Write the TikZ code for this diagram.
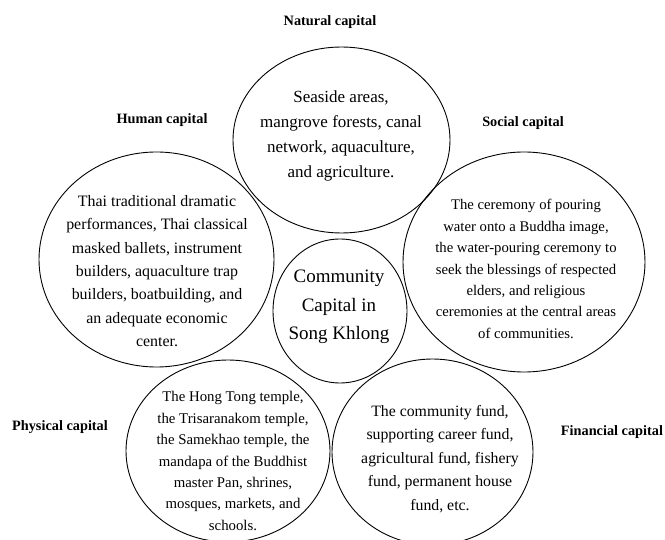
\documentclass[tikz,border=0pt]{standalone}
\usepackage{fontspec}
\setmainfont{Liberation Serif}
\usetikzlibrary{shapes.geometric}
\tikzset{
  capell/.style={draw, line width=0.9pt, ellipse, inner sep=0pt},
  bodytxt/.style={align=center, inner sep=0pt},
  caplabel/.style={inner sep=0pt, font=\fontsize{14.3}{17}\selectfont\bfseries},
}
\begin{document}
\begin{tikzpicture}[x=1pt,y=-1pt]
\useasboundingbox (0,0) rectangle (665,540);
% ellipses
\node[capell, minimum width=217pt, minimum height=186pt] (nat) at (341.5,140) {};
\node[capell, minimum width=235pt, minimum height=215pt] (hum) at (156.5,259.5) {};
\node[capell, minimum width=242pt, minimum height=220pt] (soc) at (524,262) {};
\node[capell, minimum width=204pt, minimum height=182pt] (phy) at (228,451) {};
\node[capell, minimum width=201pt, minimum height=186pt] (fin) at (432.5,452) {};
\node[capell, minimum width=134pt, minimum height=144pt] (cen) at (340,311) {};
% labels
\node[caplabel] (natL) at (330,22) {Natural capital};
\node[caplabel] (humL) at (162,120) {Human capital};
\node[caplabel] (socL) at (523,123) {Social capital};
\node[caplabel] (phyL) at (60,427) {Physical capital};
\node[caplabel] (finL) at (612,432) {Financial capital};
% texts
\node[bodytxt, font=\fontsize{17}{25}\selectfont] (natT) at (341,136)
  {Seaside areas,\\mangrove forests, canal\\network, aquaculture,\\and agriculture.};
\node[bodytxt, font=\fontsize{15.9}{23.4}\selectfont] (humT) at (157,271)
  {Thai traditional dramatic\\performances, Thai classical\\masked ballets, instrument\\builders, aquaculture trap\\builders, boatbuilding, and\\an adequate economic\\center.};
\node[bodytxt, font=\fontsize{14.7}{21.4}\selectfont] (socT) at (526,269)
  {The ceremony of pouring\\water onto a Buddha image,\\the water-pouring ceremony to\\seek the blessings of respected\\elders, and religious\\ceremonies at the central areas\\of communities.};
\node[bodytxt, font=\fontsize{14.8}{21.4}\selectfont] (phyT) at (233,461)
  {The Hong Tong temple,\\the Trisaranakom temple,\\the Samekhao temple, the\\mandapa of the Buddhist\\master Pan, shrines,\\mosques, markets, and\\schools.};
\node[bodytxt, font=\fontsize{15.8}{23.5}\selectfont] (finT) at (440,459)
  {The community fund,\\supporting career fund,\\agricultural fund, fishery\\fund, permanent house\\fund, etc.};
\node[bodytxt, font=\fontsize{19}{28.5}\selectfont] (cenT) at (339,307)
  {Community\\Capital in\\Song Khlong};
\end{tikzpicture}
\end{document}
